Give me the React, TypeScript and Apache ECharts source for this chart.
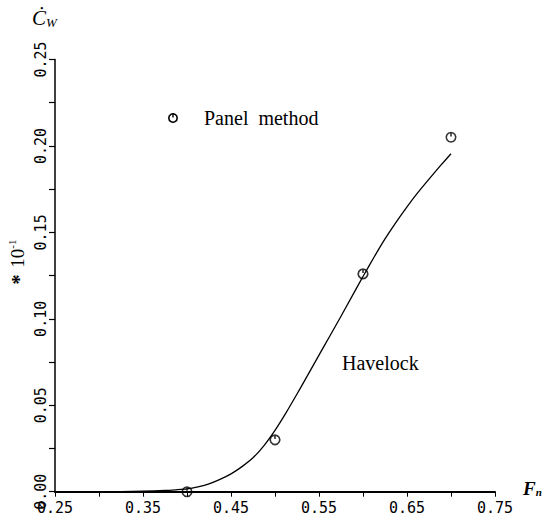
import React, { useEffect, useRef } from "react";
import * as echarts from "echarts";

const havelockFn = [0.25, 0.3, 0.325, 0.35, 0.375, 0.3875, 0.4, 0.4125, 0.425, 0.4375, 0.45, 0.4625, 0.475, 0.4875, 0.5, 0.5125, 0.525, 0.5375, 0.55, 0.5625, 0.575, 0.5875, 0.6, 0.6125, 0.625, 0.6375, 0.65, 0.6625, 0.675, 0.6875, 0.7];
const havelockCw = [0, 0, 0.0001, 0.0003, 0.0007, 0.0011, 0.0016, 0.0028, 0.0045, 0.0071, 0.0103, 0.0145, 0.0196, 0.0267, 0.0355, 0.0456, 0.0565, 0.0677, 0.079, 0.0902, 0.1015, 0.113, 0.1245, 0.1356, 0.1462, 0.1558, 0.1648, 0.1731, 0.1808, 0.1883, 0.1955];
const panelFn = [0.4, 0.5, 0.6, 0.7];
const panelCw = [0.0, 0.030, 0.126, 0.205];
const xTickLabels = ["0.25", "0.35", "0.45", "0.55", "0.65", "0.75"];
const yTickLabels = ["0.00", "0.05", "0.10", "0.15", "0.20", "0.25"];

const markerPath = "path://M5,0.6A4.4,4.4,0,1,1,4.99,0.6M5,0.6L5,4.2";

export default function App() {
  const ref = useRef<HTMLDivElement>(null);
  useEffect(() => {
    if (!ref.current) return;
    const chart = echarts.init(ref.current, null, { renderer: "svg" });
    const mono = "DejaVu Sans Mono";
    const serif = "Liberation Serif";
    chart.setOption({
      animation: false,
      backgroundColor: "#fff",
      grid: { left: 55, right: 47, top: 59.5, bottom: 30.3, containLabel: false },
      xAxis: {
        type: "value",
        min: 0.25,
        max: 0.75,
        interval: 0.05,
        splitLine: { show: false },
        axisLine: { show: true, lineStyle: { color: "#000", width: 2 } },
        axisTick: { show: true, inside: false, length: 5, lineStyle: { color: "#000", width: 1 } },
        axisLabel: {
          color: "#000",
          fontFamily: mono,
          fontSize: 15,
          margin: 9,
          formatter: (v: number) => {
            const s = v.toFixed(2);
            return xTickLabels.includes(s) ? s : "";
          },
        },
      },
      yAxis: {
        type: "value",
        min: 0,
        max: 0.25,
        interval: 0.025,
        splitLine: { show: false },
        axisLine: { show: true, lineStyle: { color: "#000", width: 1.5 } },
        axisTick: { show: true, inside: false, length: 6, lineStyle: { color: "#000", width: 1.2 } },
        axisLabel: {
          color: "#000",
          fontFamily: mono,
          fontSize: 15,
          rotate: 90,
          margin: 7,
          formatter: (v: number) => {
            const s = v.toFixed(2);
            return yTickLabels.includes(s) && Math.abs(v * 1000 - Math.round(v * 20) * 50) < 1e-6 ? s : "";
          },
        },
      },
      series: [
        {
          type: "line",
          name: "Havelock",
          data: havelockFn.map((x, i) => [x, havelockCw[i]]),
          smooth: 0.2,
          showSymbol: false,
          lineStyle: { color: "#000", width: 1.3, join: "round" },
          z: 2,
        },
        {
          type: "scatter",
          name: "Panel method",
          data: panelFn.map((x, i) => [x, panelCw[i]]),
          symbol: markerPath,
          symbolSize: 9.5,
          itemStyle: { color: "none", borderColor: "#000", borderWidth: 1.6 },
          z: 3,
        },
      ],
      graphic: [
        {
          type: "circle",
          shape: { cx: 173, cy: 118, r: 4.2 },
          style: { fill: "none", stroke: "#000", lineWidth: 1.6 },
        },
        {
          type: "line",
          shape: { x1: 173, y1: 113.8, x2: 173, y2: 117.5 },
          style: { stroke: "#000", lineWidth: 1.4 },
        },
        {
          type: "text",
          x: 204,
          y: 118,
          style: { text: "Panel  method", font: `20px "${serif}"`, fill: "#000", verticalAlign: "middle" },
        },
        {
          type: "text",
          x: 342,
          y: 363,
          style: { text: "Havelock", font: `20px "${serif}"`, fill: "#000", verticalAlign: "middle" },
        },
        {
          type: "text",
          x: 32,
          y: 18,
          style: {
            text: "{c|Ċ}{w|W}",
            verticalAlign: "middle",
            rich: {
              c: { fontFamily: serif, fontStyle: "italic", fontSize: 21, fill: "#000", verticalAlign: "bottom" },
              w: { fontFamily: serif, fontStyle: "italic", fontSize: 13, fill: "#000", padding: [8, 0, 0, 0] },
            },
          },
        },
        {
          type: "text",
          x: 17,
          y: 262,
          rotation: Math.PI / 2,
          style: {
            text: "{s|*}  {t|10}{e|-1}",
            align: "center",
            verticalAlign: "middle",
            rich: {
              s: { fontFamily: serif, fontWeight: "bold", fontSize: 20, fill: "#000", padding: [4, 0, 0, 0] },
              t: { fontFamily: serif, fontSize: 19, fill: "#000" },
              e: { fontFamily: serif, fontSize: 11, fill: "#000", padding: [0, 0, 10, 0] },
            },
          },
        },
        {
          type: "text",
          x: 523,
          y: 488,
          style: {
            text: "{f|F}{n|n}",
            verticalAlign: "middle",
            rich: {
              f: { fontFamily: serif, fontStyle: "italic", fontWeight: "bold", fontSize: 19, fill: "#000" },
              n: { fontFamily: serif, fontStyle: "italic", fontWeight: "bold", fontSize: 11, fill: "#000", padding: [8, 0, 0, 0] },
            },
          },
        },
      ],
    });
    return () => chart.dispose();
  }, []);
  return <div ref={ref} style={{ width: 542, height: 522, position: "absolute", left: 0, top: 0 }} />;
}
